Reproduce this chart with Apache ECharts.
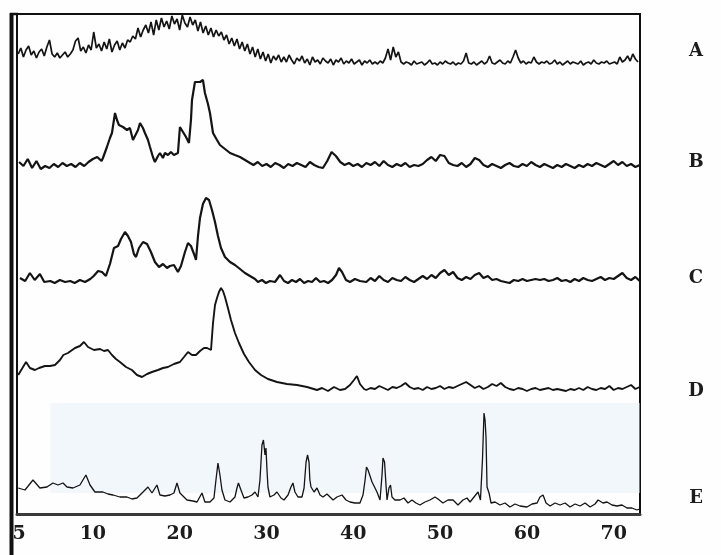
<!DOCTYPE html>
<html>
<head>
<meta charset="utf-8">
<title>XRD patterns A–E</title>
<script src="https://cdn.jsdelivr.net/npm/echarts@6/dist/echarts.min.js"></script>
<style>
  html, body { margin: 0; padding: 0; background: #fefefe; }
  #chart { width: 721px; height: 555px; }
</style>
</head>
<body>
<div id="chart"></div>
<script>
// 2θ range of the scan (degrees) and tick labels on the bottom axis
const X_MIN = 1.26;
const X_MAX = 73.03;
const tickValues = [1.5, 10, 20, 30, 40, 50, 60, 70];
const tickLabels = ['5', '10', '20', '30', '40', '50', '60', '70'];

const traceNames = ['A', 'B', 'C', 'D', 'E'];

// Pattern A: uniform scan, first point at 1.4°, 0.3° step (relative intensity)
const A_START = 1.4;
const A_STEP = 0.3;
const countsA = [
  12, 18, 9, 16, 20, 11, 15, 8, 14,
  17, 10, 19,
  26, 12,
  9, 13, 8, 11, 14, 9, 12,
  16, 25, 28, 15,
  19, 13, 21, 16,
  34, 18,
  22, 15, 24, 17, 27, 14, 21, 25, 16, 23, 18, 26,
  24, 30, 27,
  38, 29, 36, 41,
  33, 44, 31, 46, 36, 48, 39,
  45, 37, 50, 42, 47, 36, 51, 43, 39, 49, 41, 46, 35,
  44, 33, 40, 31, 38, 29, 36, 30,
  34, 26, 31, 22, 28,
  20, 27, 17, 24, 15,
  22, 12, 19, 9, 17,
  7, 14, 5, 12, 3, 10, 6, 11, 4,
  9, 4, 11, 6, 2, 8, 5, 10, 3, 7, 1, 9, 4, 6, 2, 8, 5, 3, 7, 1,
  6, 4, 8, 2, 5, 3, 7, 2, 4, 6, 1, 5, 3, 6, 2,
  4, 2, 5, 3,
  8, 17, 6, 19, 9, 14, 4,
  2, 4, 3, 1, 5, 2, 3, 4, 1, 3, 6, 2, 3, 1, 4, 2, 5, 3, 2, 4, 1, 3, 2, 5, 13,
  3, 2, 4, 1, 3, 5, 2, 4,
  10, 3,
  2, 4, 6, 3, 2, 5, 3,
  9, 16, 8,
  3, 5, 2, 4, 3, 9, 4,
  2, 4, 3, 5, 2, 3, 6, 2, 4, 1, 3, 5, 2, 4, 3, 2, 5, 1, 3, 4, 2, 6, 3, 2, 4, 3, 5, 2, 3, 4, 2, 9,
  4, 6, 10, 5, 12, 7, 4
];

// Patterns B–E: [2θ, relative intensity]
const traceB = [
  [1.5, 8], [2.0, 4], [2.5, 11], [3.0, 2], [3.5, 9], [4.0, 1], [4.5, 4], [5.0, 2], [5.5, 6], [6.0, 3],
  [6.5, 7], [7.0, 4], [7.5, 6], [8.0, 3], [8.5, 7], [9.0, 4], [9.5, 8], [10.0, 11], [10.5, 13], [11.0, 9],
  [11.16, 12], [11.62, 23], [11.97, 32], [12.2, 37], [12.55, 57], [12.78, 50], [13.0, 45], [13.47, 43],
  [13.93, 40], [14.27, 42], [14.62, 30], [14.85, 28], [15.2, 40], [15.43, 47], [15.77, 42], [16.0, 37],
  [16.35, 30], [16.58, 23], [16.92, 13], [17.15, 8], [17.5, 14], [17.73, 17], [18.07, 12], [18.3, 17],
  [18.65, 15], [18.99, 18], [19.34, 15], [19.8, 17], [20.03, 43], [20.38, 38], [20.73, 33], [21.07, 27],
  [21.2, 28], [21.3, 50], [21.42, 70], [21.76, 88], [21.99, 90], [22.34, 88], [22.68, 90], [22.91, 77],
  [23.26, 66], [23.49, 57], [23.84, 37], [24.3, 30], [24.64, 25], [25.22, 21], [25.8, 17], [26.37, 15],
  [26.95, 13], [27.53, 10], [28.1, 7], [28.5, 5], [29.0, 8], [29.5, 4], [30.0, 6], [30.5, 3], [31.0, 7],
  [31.5, 5], [32.0, 2], [32.5, 6], [33.0, 4], [33.5, 7], [34.0, 5], [34.5, 3], [35.0, 8], [35.5, 5],
  [36.0, 3], [36.5, 2], [37.0, 9], [37.5, 18], [38.0, 14], [38.5, 8], [39.0, 5], [39.5, 7], [40.0, 4],
  [40.5, 6], [41.0, 3], [41.5, 7], [42.0, 5], [42.5, 8], [43.0, 4], [43.5, 9], [44.0, 5], [44.5, 3],
  [45.0, 6], [45.5, 4], [46.0, 7], [46.5, 3], [47.0, 5], [47.5, 4], [48.0, 6], [48.5, 10], [49.0, 13],
  [49.5, 9], [50.0, 15], [50.5, 14], [51.0, 7], [51.5, 5], [52.0, 4], [52.5, 7], [53.0, 3], [53.5, 6],
  [54.0, 12], [54.5, 10], [55.0, 5], [55.5, 3], [56.0, 6], [56.5, 4], [57.0, 2], [57.5, 5], [58.0, 7],
  [58.5, 4], [59.0, 3], [59.5, 6], [60.0, 4], [60.5, 8], [61.0, 5], [61.5, 3], [62.0, 6], [62.5, 4],
  [63.0, 2], [63.5, 5], [64.0, 3], [64.5, 6], [65.0, 4], [65.5, 2], [66.0, 5], [66.5, 3], [67.0, 6],
  [67.5, 4], [68.0, 7], [68.5, 5], [69.0, 3], [69.5, 6], [70.0, 9], [70.5, 5], [71.0, 8], [71.5, 4],
  [72.0, 6], [72.5, 3], [73.0, 5]
];

const traceC = [
  [1.6, 6], [2.2, 3], [2.75, 11], [3.3, 4], [3.9, 10], [4.4, 2], [5.1, 3], [5.6, 1], [6.2, 4], [6.8, 2],
  [7.4, 3], [7.9, 1], [8.5, 4], [9.1, 2], [9.7, 5], [10.1, 8], [10.6, 13], [11.05, 12], [11.5, 8],
  [11.97, 20], [12.43, 36], [12.9, 38], [13.24, 45], [13.7, 52], [14.04, 48], [14.39, 42], [14.73, 30],
  [14.97, 27], [15.31, 36], [15.78, 42], [16.24, 40], [16.69, 32], [17.15, 22], [17.62, 17], [18.08, 20],
  [18.54, 16], [18.88, 18], [19.34, 19], [19.8, 12], [20.15, 18], [20.61, 32], [20.96, 41], [21.3, 38],
  [21.65, 30], [21.88, 24], [22.11, 48], [22.34, 66], [22.68, 80], [23.03, 86], [23.38, 84], [23.72, 74],
  [24.07, 62], [24.41, 48], [24.76, 36], [25.22, 27], [25.8, 22], [26.37, 19], [26.95, 15], [27.52, 11],
  [28.1, 8], [28.68, 5], [29.02, 2], [29.48, 4], [29.94, 1], [30.4, 3], [30.98, 2], [31.56, 9], [32.02, 3],
  [32.48, 1], [32.94, 4], [33.4, 2], [33.86, 5], [34.33, 1], [34.79, 3], [35.25, 2], [35.7, 6], [36.17, 2],
  [36.63, 3], [37.09, 1], [37.55, 4], [38.01, 9], [38.35, 16], [38.7, 12], [39.16, 4], [39.62, 2],
  [40.19, 5], [40.77, 3], [41.0, 5], [41.5, 2], [42.0, 6], [42.5, 3], [43.0, 8], [43.5, 4], [44.0, 2],
  [44.5, 6], [45.0, 4], [45.5, 3], [46.0, 7], [46.5, 4], [47.0, 2], [47.5, 5], [48.0, 8], [48.5, 5],
  [49.0, 9], [49.5, 6], [50.0, 11], [50.5, 14], [51.0, 9], [51.5, 12], [52.0, 6], [52.5, 4], [53.0, 7],
  [53.5, 5], [54.0, 9], [54.5, 11], [55.0, 6], [55.5, 8], [56.0, 4], [56.5, 5], [57.0, 3], [57.5, 2],
  [58.0, 1], [58.5, 4], [59.0, 3], [59.5, 5], [60.0, 3], [60.5, 4], [61.0, 5], [61.5, 4], [62.0, 5],
  [62.5, 3], [63.0, 4], [63.5, 6], [64.0, 3], [64.5, 4], [65.0, 2], [65.5, 5], [66.0, 3], [66.5, 6],
  [67.0, 4], [67.5, 3], [68.0, 5], [68.5, 7], [69.0, 4], [69.5, 6], [70.0, 5], [70.5, 8], [71.0, 11],
  [71.5, 6], [72.0, 4], [72.5, 7], [73.0, 3]
];

const traceD = [
  [1.4, 17], [2.3, 30], [2.75, 24], [3.33, 22], [3.8, 24], [4.48, 26], [5.06, 26], [5.63, 27], [6.21, 32],
  [6.6, 37], [7.13, 39], [7.94, 44], [8.51, 46], [8.97, 50], [9.44, 45], [10.13, 42], [10.82, 43],
  [11.28, 41], [11.74, 42], [12.2, 37], [12.66, 33], [13.12, 30], [13.82, 25], [14.5, 22], [15.08, 17],
  [15.66, 15], [16.24, 18], [16.81, 20], [17.5, 22], [18.08, 24], [18.65, 25], [19.34, 28], [20.03, 30],
  [20.5, 35], [20.96, 40], [21.42, 37], [21.88, 37], [22.34, 41], [22.8, 44], [23.15, 44], [23.61, 42],
  [23.84, 69], [24.07, 87], [24.3, 94], [24.53, 100], [24.76, 104], [24.99, 101], [25.22, 95], [25.56, 84],
  [25.91, 72], [26.37, 59], [26.83, 49], [27.41, 38], [27.98, 30], [28.68, 22], [29.37, 17], [30.17, 13],
  [31.21, 10], [32.36, 8], [33.51, 7], [34.67, 5], [35.82, 2], [36.4, 4], [37.09, 1], [37.78, 5],
  [38.47, 2], [39.05, 3], [39.62, 7], [40.08, 12], [40.42, 16], [40.77, 8], [41.24, 3], [41.5, 2],
  [42.0, 4], [42.5, 3], [43.0, 6], [43.5, 4], [44.0, 2], [44.5, 5], [45.0, 4], [45.5, 6], [46.0, 9],
  [46.5, 5], [47.0, 3], [47.5, 4], [48.0, 2], [48.5, 5], [49.0, 3], [49.5, 4], [50.0, 6], [50.5, 3],
  [51.0, 5], [51.5, 4], [52.0, 6], [52.5, 8], [53.0, 10], [53.5, 7], [54.0, 4], [54.5, 6], [55.0, 3],
  [55.5, 5], [56.0, 8], [56.5, 6], [57.0, 9], [57.5, 5], [58.0, 3], [58.5, 2], [59.0, 4], [59.5, 3],
  [60.0, 1], [60.5, 3], [61.0, 4], [61.5, 2], [62.0, 3], [62.5, 4], [63.0, 2], [63.5, 3], [64.0, 2],
  [64.5, 1], [65.0, 3], [65.5, 2], [66.0, 4], [66.5, 2], [67.0, 5], [67.5, 3], [68.0, 2], [68.5, 4],
  [69.0, 3], [69.5, 6], [70.0, 2], [70.5, 4], [71.0, 3], [71.5, 5], [72.0, 7], [72.5, 3], [73.0, 5]
];

const traceE = [
  [1.4, 22], [2.18, 20], [3.1, 30], [3.9, 22], [4.71, 23], [5.4, 27], [5.98, 25], [6.56, 27], [7.02, 23],
  [7.71, 22], [8.51, 25], [9.2, 35], [9.67, 25], [10.24, 18], [11.16, 18], [11.74, 16], [12.32, 15],
  [13.12, 13], [13.93, 13], [14.5, 11], [15.08, 12], [15.78, 18], [16.35, 23], [16.81, 17], [17.38, 25],
  [17.73, 15], [18.3, 14], [18.88, 15], [19.34, 17], [19.69, 27], [20.03, 17], [20.84, 10], [21.53, 9],
  [22.0, 8], [22.57, 17], [22.91, 8], [23.49, 8], [23.95, 12], [24.18, 30], [24.41, 47], [24.64, 35],
  [24.87, 20], [25.22, 10], [25.8, 8], [26.37, 13], [26.6, 22], [26.77, 27], [27.06, 20], [27.41, 12],
  [27.87, 13], [28.33, 15], [28.68, 18], [29.02, 13], [29.25, 30], [29.48, 65], [29.65, 70], [29.83, 55],
  [29.94, 62], [30.06, 40], [30.17, 23], [30.4, 13], [30.86, 15], [31.21, 18], [31.67, 12], [32.02, 10],
  [32.48, 15], [32.82, 23], [33.05, 27], [33.28, 18], [33.63, 13], [34.09, 13], [34.33, 22], [34.56, 48],
  [34.73, 55], [34.9, 48], [35.0, 30], [35.13, 23], [35.48, 18], [35.82, 22], [36.17, 15], [36.51, 13],
  [36.97, 16], [37.32, 13], [37.67, 10], [38.12, 13], [38.7, 15], [39.16, 10], [39.62, 8], [40.19, 7],
  [40.77, 7], [41.12, 15], [41.36, 30], [41.52, 43], [41.7, 40], [41.93, 34], [42.16, 28], [42.39, 24],
  [42.73, 18], [43.08, 10], [43.31, 35], [43.42, 52], [43.6, 48], [43.77, 25], [43.89, 10], [44.11, 22],
  [44.29, 25], [44.46, 13], [44.8, 10], [45.38, 10], [45.84, 12], [46.3, 7], [46.76, 10], [47.22, 7],
  [47.68, 5], [48.26, 8], [48.84, 10], [49.41, 13], [49.76, 11], [50.33, 7], [50.91, 10], [51.49, 10],
  [52.06, 5], [52.64, 10], [53.1, 12], [53.45, 8], [53.91, 13], [54.37, 18], [54.65, 10], [54.88, 50],
  [55.06, 97], [55.18, 90], [55.29, 73], [55.41, 23], [55.64, 17], [55.87, 7], [56.33, 8], [56.9, 5],
  [57.48, 7], [58.05, 3], [58.63, 6], [59.2, 4], [60.01, 3], [60.59, 6], [61.17, 7], [61.51, 13],
  [61.86, 15], [62.21, 7], [62.67, 4], [63.24, 7], [63.82, 5], [64.4, 7], [64.97, 3], [65.55, 6],
  [66.13, 4], [66.7, 7], [67.28, 3], [67.85, 6], [68.2, 10], [68.43, 12], [68.77, 7], [69.23, 8],
  [69.8, 5], [70.38, 4], [70.95, 5], [71.53, 2], [72.1, 2], [72.68, 0], [73.0, 1]
];

// vertical stacking of the patterns on a shared 0–500 scale
const Y_MAX = 500;
const stackOffset = { A: 448, B: 344, C: 230, D: 122, E: 4 };

const pairsA = countsA.map((c, i) => [A_START + i * A_STEP, c]);
const patterns = { A: pairsA, B: traceB, C: traceC, D: traceD, E: traceE };
const lineWidths = { A: 1.7, B: 2.2, C: 2.2, D: 1.9, E: 1.3 };

const chart = echarts.init(document.getElementById('chart'), null, { renderer: 'canvas' });

function tickText(v) {
  for (let i = 0; i < tickValues.length; i++) {
    if (Math.abs(tickValues[i] - v) < 1e-6) return tickLabels[i];
  }
  return '';
}

const series = traceNames.map(name => {
  const s = {
    name: name,
    type: 'line',
    showSymbol: false,
    symbol: 'none',
    smooth: false,
    clip: true,
    lineStyle: { color: '#141414', width: lineWidths[name] },
    data: patterns[name].map(([t, c]) => [t, stackOffset[name] + c]),
    z: 3
  };
  if (name === 'E') {
    // faint tinted panel behind pattern E
    s.markArea = {
      silent: true,
      itemStyle: { color: 'rgba(228, 239, 249, 0.45)' },
      data: [[{ xAxis: 5.1, yAxis: 21 }, { xAxis: X_MAX, yAxis: 111 }]]
    };
  }
  return s;
});

// right-hand letters next to each pattern
const letterY = { A: 51, B: 162, C: 278, D: 391, E: 498 };
const letterGraphics = traceNames.map(name => ({
  type: 'text',
  x: 696,
  y: letterY[name],
  style: {
    text: name,
    fill: '#1c1c1c',
    font: 'bold 18px "DejaVu Serif"',
    textAlign: 'center',
    textVerticalAlign: 'middle'
  },
  z: 10
}));

chart.setOption({
  animation: false,
  backgroundColor: '#fefefe',
  grid: {
    left: 17, top: 14, width: 623, height: 500,
    show: true,
    borderColor: '#111',
    borderWidth: 2,
    backgroundColor: 'transparent'
  },
  xAxis: {
    type: 'value',
    min: X_MIN,
    max: X_MAX,
    axisLine: { show: true, onZero: false, lineStyle: { color: '#3a3a3a', width: 3 } },
    axisTick: { show: false },
    splitLine: { show: false },
    axisLabel: {
      customValues: tickValues,
      formatter: tickText,
      showMinLabel: true,
      showMaxLabel: true,
      hideOverlap: false,
      margin: 11,
      color: '#1c1c1c',
      fontFamily: 'DejaVu Serif',
      fontWeight: 'bold',
      fontSize: 19
    }
  },
  yAxis: {
    type: 'value',
    min: 0,
    max: Y_MAX,
    show: false
  },
  series: series,
  graphic: [
    { type: 'line', shape: { x1: 11.5, y1: 13, x2: 11.5, y2: 555 }, style: { stroke: '#111', lineWidth: 4 }, z: 10 },
    { type: 'line', shape: { x1: 10, y1: 14, x2: 18, y2: 14 }, style: { stroke: '#111', lineWidth: 2.5 }, z: 10 },
    ...letterGraphics
  ]
});
</script>
</body>
</html>
